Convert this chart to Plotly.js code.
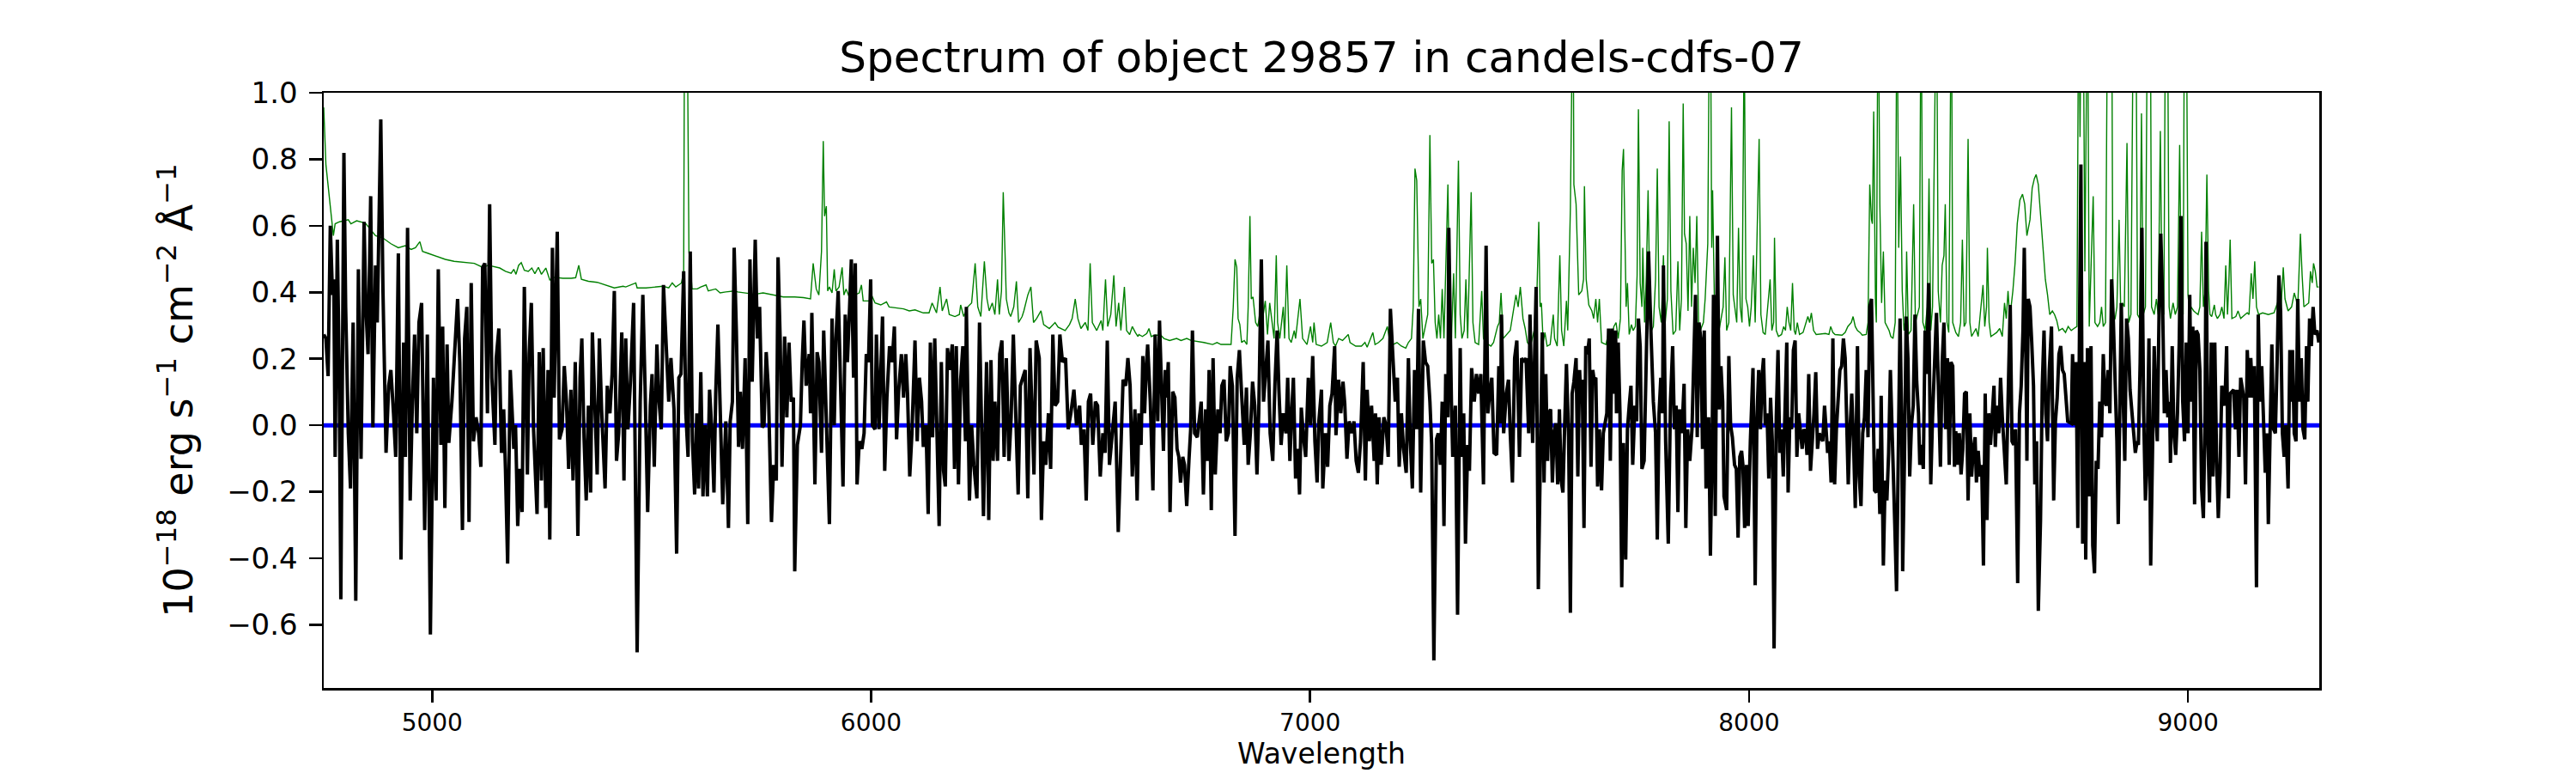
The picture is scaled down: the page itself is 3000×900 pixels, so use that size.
<!DOCTYPE html>
<html>
<head>
<meta charset="utf-8">
<script src="https://cdn.plot.ly/plotly-3.0.1.min.js"></script>
<style>html,body{margin:0;padding:0;background:#fff;}#chart{width:3000px;height:900px;}</style>
</head>
<body>
<div id="chart"></div>
<script>
// ---- data: [wavelength (Å), flux (1e-18 erg/s/cm2/Å)] ----
const flux1 = [[4753,0.273],[4758,0.261],[4763,0.148],[4768,0.600],[4773,0.392],[4776,0.439],[4779,-0.095],[4784,0.558],[4788,0.190],[4792,-0.523],[4799,0.819],[4803,0.356],[4809,-0.024],[4814,-0.190],[4820,0.309],[4826,-0.528],[4832,0.469],[4838,-0.101],[4845,0.612],[4849,0.356],[4854,0.214],[4860,0.689],[4865,-0.006],[4871,0.481],[4875,0.309],[4883,0.920],[4888,0.404],[4895,-0.083],[4901,0.119],[4906,0.166],[4912,0.036],[4917,-0.095],[4923,0.517],[4929,-0.404],[4935,0.249],[4939,-0.095],[4944,0.594],[4950,-0.226],[4955,0.071],[4960,0.273],[4965,-0.024],[4970,0.309],[4976,0.368],[4983,-0.315],[4989,0.273],[4996,-0.629],[5003,0.143],[5009,-0.226],[5014,0.469],[5020,-0.059],[5024,0.297],[5029,-0.249],[5034,0.243],[5038,-0.053],[5045,0.071],[5051,0.238],[5058,0.380],[5063,0.190],[5069,-0.315],[5074,0.261],[5079,0.356],[5084,-0.291],[5089,0.428],[5094,-0.048],[5100,0.024],[5106,-0.024],[5111,-0.125],[5115,0.475],[5120,0.487],[5126,0.036],[5131,0.665],[5136,0.143],[5143,-0.059],[5146,0.202],[5152,0.291],[5158,-0.083],[5163,0.048],[5167,-0.131],[5172,-0.416],[5178,0.166],[5186,-0.071],[5190,0.000],[5195,-0.303],[5200,-0.131],[5205,-0.261],[5210,0.416],[5217,-0.148],[5221,0.214],[5226,0.368],[5231,-0.012],[5239,-0.267],[5244,0.220],[5249,-0.166],[5253,0.232],[5259,-0.249],[5264,0.166],[5268,-0.344],[5274,0.534],[5278,0.083],[5285,0.582],[5290,-0.042],[5296,-0.012],[5301,0.178],[5306,0.071],[5311,-0.131],[5316,0.107],[5321,-0.166],[5326,0.190],[5332,-0.333],[5337,0.143],[5341,0.261],[5346,-0.036],[5351,-0.226],[5356,0.059],[5361,-0.202],[5365,0.279],[5371,0.071],[5376,-0.148],[5381,0.261],[5386,0.048],[5394,-0.190],[5399,0.119],[5405,0.036],[5410,0.154],[5415,0.404],[5420,-0.107],[5425,-0.024],[5432,0.279],[5437,-0.166],[5441,0.261],[5446,-0.012],[5452,0.137],[5459,0.368],[5467,-0.683],[5474,0.071],[5480,0.392],[5485,0.119],[5491,-0.261],[5497,0.059],[5501,0.154],[5506,-0.125],[5512,0.243],[5517,0.071],[5522,-0.012],[5527,0.422],[5532,0.279],[5539,0.071],[5544,0.202],[5551,0.048],[5557,-0.386],[5562,0.143],[5567,0.154],[5573,0.463],[5578,0.036],[5583,-0.095],[5588,0.523],[5593,-0.048],[5598,-0.208],[5603,0.036],[5607,-0.190],[5612,0.160],[5617,-0.214],[5622,0.000],[5627,-0.214],[5632,0.107],[5637,-0.012],[5642,-0.202],[5646,0.095],[5651,0.303],[5656,0.059],[5662,-0.238],[5669,0.012],[5675,-0.309],[5679,0.012],[5684,0.071],[5688,0.534]];

const flux2 = [[5693,0.285],[5698,-0.065],[5702,0.101],[5707,-0.071],[5713,0.202],[5719,-0.297],[5724,0.499],[5729,0.131],[5736,0.558],[5741,0.261],[5746,0.356],[5752,-0.006],[5756,0.000],[5761,0.220],[5766,0.107],[5773,-0.291],[5778,-0.119],[5784,-0.166],[5788,0.505],[5793,0.249],[5797,-0.125],[5803,0.267],[5808,0.024],[5813,0.249],[5818,0.071],[5823,0.083],[5826,-0.439],[5832,-0.059],[5839,0.000],[5843,0.190],[5847,0.315],[5852,0.119],[5859,0.214],[5862,0.036],[5865,0.338],[5872,-0.178],[5877,0.220],[5881,0.190],[5887,-0.083],[5892,0.285],[5899,0.000],[5905,-0.297],[5911,0.321],[5916,0.000],[5920,0.261],[5925,0.404],[5930,0.143],[5936,-0.184],[5941,0.333],[5946,0.190],[5951,0.356],[5955,0.499],[5960,0.143],[5964,0.487],[5968,-0.178],[5973,-0.048],[5979,-0.071],[5984,-0.024],[5989,0.214],[5994,0.190],[5999,0.439],[6003,0.000],[6009,-0.012],[6012,0.273],[6018,-0.012],[6022,0.143],[6026,0.327],[6031,-0.137],[6036,0.083],[6042,0.238],[6048,0.190],[6053,0.297],[6058,-0.042],[6063,0.107],[6069,0.214],[6074,0.083],[6079,0.214],[6083,0.095],[6088,-0.154],[6093,-0.024],[6100,0.255],[6105,-0.048],[6110,0.143],[6115,0.071],[6119,-0.065],[6125,0.000],[6130,-0.267],[6135,0.249],[6140,-0.036],[6145,0.261],[6151,-0.048],[6155,-0.303],[6160,0.190],[6165,-0.137],[6169,-0.184],[6174,0.232],[6179,0.166],[6185,0.243],[6190,-0.131],[6194,0.238],[6199,-0.178],[6204,0.137],[6209,0.238],[6215,-0.048],[6217,0.356],[6224,-0.226],[6229,0.000],[6234,-0.119],[6241,-0.220],[6247,0.309],[6252,-0.024],[6256,-0.273],[6263,0.190],[6268,-0.285],[6273,0.196],[6278,-0.107],[6282,0.071],[6288,-0.107],[6293,0.214],[6298,0.255],[6303,-0.095],[6308,0.202],[6314,-0.107],[6319,0.024],[6324,0.273],[6329,0.071],[6335,-0.208],[6340,0.119],[6351,0.166],[6357,-0.220],[6362,0.232],[6367,0.024],[6371,-0.148],[6376,0.255],[6383,0.202],[6388,-0.285],[6393,-0.048],[6398,-0.119],[6404,0.036],[6409,-0.131],[6414,0.273],[6419,0.059],[6425,0.071],[6430,0.273],[6436,0.190],[6443,0.202],[6449,-0.012],[6455,0.036],[6462,0.107],[6468,0.000],[6475,0.059],[6479,-0.059],[6485,-0.012],[6490,-0.226],[6495,0.071],[6500,0.095],[6505,-0.059],[6511,0.071],[6516,0.059],[6522,-0.154],[6528,-0.024],[6533,-0.083],[6538,0.255],[6543,-0.119],[6550,0.000],[6556,0.071],[6563,-0.321],[6568,-0.083],[6574,0.137],[6580,0.119],[6585,0.202],[6590,0.119],[6595,-0.154],[6601,0.048],[6606,-0.226]];

const flux3 = [[6610,0.036],[6615,-0.059],[6619,0.208],[6623,0.036],[6627,0.178],[6630,0.243],[6636,0.071],[6642,-0.196],[6647,0.273],[6653,0.012],[6657,0.315],[6662,0.083],[6666,-0.077],[6670,0.166],[6673,0.083],[6677,0.190],[6681,-0.261],[6687,0.101],[6692,0.083],[6697,-0.071],[6701,-0.095],[6705,-0.172],[6710,-0.095],[6714,-0.119],[6719,-0.243],[6724,-0.107],[6728,-0.012],[6732,0.285],[6737,-0.024],[6743,-0.036],[6748,0.036],[6752,0.071],[6757,-0.208],[6762,0.048],[6766,-0.107],[6770,0.166],[6775,-0.255],[6779,0.202],[6784,-0.148],[6790,0.048],[6795,-0.024],[6799,0.119],[6804,0.137],[6809,-0.048],[6814,-0.024],[6818,0.178],[6823,0.119],[6829,-0.333],[6834,0.143],[6839,0.226],[6844,0.095],[6850,-0.059],[6855,0.113],[6859,-0.119],[6864,-0.024],[6869,0.131],[6874,0.059],[6879,-0.148],[6883,0.036],[6889,0.499],[6894,0.071],[6899,0.166],[6904,0.255],[6909,-0.024],[6915,-0.107],[6920,0.125],[6925,0.285],[6929,0.107],[6934,-0.059],[6939,0.036],[6945,-0.024],[6949,0.143],[6954,-0.107],[6958,0.036],[6962,0.143],[6967,-0.160],[6972,-0.071],[6976,-0.208],[6980,0.053],[6985,-0.036],[6990,-0.095],[6996,0.143],[7001,0.000],[7006,0.208],[7011,-0.048],[7016,-0.172],[7020,0.012],[7026,0.107],[7029,-0.190],[7035,-0.024],[7040,-0.125],[7045,0.059],[7050,0.095],[7056,0.238],[7059,-0.030],[7065,0.137],[7070,0.036],[7075,0.131],[7079,0.065],[7084,-0.101],[7089,0.012],[7095,-0.024],[7100,0.012],[7105,-0.107],[7110,-0.143],[7115,-0.048],[7121,0.190],[7126,-0.166],[7130,0.107],[7135,-0.048],[7140,0.059],[7146,-0.107],[7149,0.036],[7153,-0.178],[7157,0.024],[7162,-0.119],[7168,0.024],[7173,0.000],[7178,-0.095],[7183,0.350],[7189,0.166],[7194,0.071],[7199,0.143],[7203,-0.125],[7208,0.036],[7213,-0.071],[7219,-0.143],[7224,0.202],[7228,-0.036],[7233,-0.190],[7238,0.166],[7243,-0.012],[7247,0.350],[7252,-0.202],[7258,0.255],[7263,0.190],[7268,0.178],[7273,0.071],[7277,-0.059],[7282,-0.707],[7288,-0.042],[7292,-0.024],[7297,-0.119],[7301,0.071],[7305,-0.303],[7309,0.154],[7314,0.024],[7316,0.594],[7322,0.071],[7325,-0.095],[7331,0.059],[7336,-0.570],[7342,0.232],[7345,-0.095],[7350,0.036],[7354,-0.356],[7359,-0.059],[7363,-0.137],[7368,0.172],[7374,0.071],[7379,0.154],[7384,0.095],[7389,0.154],[7395,-0.178],[7401,0.540],[7405,0.036],[7409,0.095],[7414,0.143],[7419,-0.083],[7425,-0.089],[7430,0.178],[7434,0.006],[7436,0.333],[7441,-0.024],[7447,0.095],[7452,0.137],[7456,-0.024],[7461,-0.172],[7466,0.202],[7471,0.255],[7477,-0.095],[7482,0.202],[7487,0.190],[7492,0.202],[7498,-0.024],[7501,0.333],[7507,-0.053],[7511,0.238],[7515,0.416],[7520,-0.493]];

const flux4 = [[7525,0.000],[7529,0.279],[7533,-0.172],[7537,0.154],[7541,-0.107],[7544,0.036],[7548,0.048],[7552,-0.172],[7556,-0.024],[7560,0.006],[7564,-0.178],[7568,0.048],[7572,-0.166],[7576,-0.202],[7580,0.000],[7584,0.184],[7589,-0.036],[7593,-0.564],[7597,0.095],[7601,0.131],[7606,0.202],[7610,-0.154],[7614,0.166],[7617,0.071],[7620,0.137],[7624,-0.309],[7628,0.238],[7632,0.214],[7636,0.261],[7640,-0.125],[7644,0.166],[7647,0.137],[7651,0.143],[7655,-0.184],[7659,-0.012],[7664,-0.196],[7668,-0.024],[7676,0.036],[7680,0.291],[7684,-0.107],[7688,0.291],[7692,0.095],[7696,0.285],[7698,0.036],[7702,0.249],[7706,0.036],[7710,-0.487],[7714,-0.053],[7719,-0.404],[7723,-0.012],[7727,0.059],[7731,0.119],[7735,-0.119],[7740,0.059],[7744,0.012],[7748,0.321],[7752,0.238],[7756,-0.131],[7761,-0.107],[7766,0.249],[7771,0.523],[7777,0.261],[7782,0.071],[7787,-0.024],[7791,-0.344],[7795,0.036],[7799,0.143],[7803,0.036],[7805,0.481],[7810,-0.048],[7816,-0.356],[7821,0.071],[7826,0.238],[7830,-0.012],[7834,0.059],[7838,-0.261],[7842,0.048],[7847,-0.024],[7852,0.125],[7856,-0.309],[7860,-0.012],[7865,-0.107],[7870,-0.012],[7874,0.190],[7878,0.392],[7882,-0.036],[7886,0.309],[7890,0.261],[7894,-0.071],[7898,0.285],[7902,-0.190],[7906,-0.048],[7908,0.024],[7912,-0.392],[7916,-0.048],[7919,0.392],[7923,-0.273],[7928,0.570],[7932,0.048],[7936,0.178],[7940,0.071],[7943,-0.214],[7949,-0.255],[7954,0.208],[7958,0.000],[7962,-0.036],[7967,-0.119],[7971,-0.131],[7975,-0.338],[7979,-0.095],[7983,-0.077],[7986,-0.119],[7990,-0.309],[7994,-0.119],[7998,-0.303],[8003,-0.048],[8009,0.172],[8014,-0.481],[8018,0.024],[8022,0.166],[8026,-0.012],[8030,0.154],[8033,0.202],[8037,0.000],[8041,0.036],[8045,-0.160],[8049,0.083],[8053,-0.048],[8057,-0.671],[8062,0.024],[8066,0.226],[8070,-0.083],[8074,-0.012],[8078,-0.154],[8082,0.083],[8086,0.249],[8089,-0.202],[8093,0.024],[8097,-0.012],[8101,0.226],[8105,0.255],[8109,-0.095],[8113,0.036],[8117,-0.012],[8121,-0.071],[8125,-0.012],[8129,-0.024],[8132,-0.089],[8136,0.154],[8140,-0.137],[8144,-0.059],[8148,0.036],[8152,0.160],[8156,-0.071],[8160,-0.024],[8164,-0.036],[8168,-0.048],[8172,0.059],[8179,-0.083],[8183,-0.048],[8187,-0.172],[8191,0.261],[8195,-0.178],[8199,-0.012],[8207,0.166],[8211,0.178],[8215,0.261],[8219,0.202],[8222,-0.012],[8226,-0.178],[8230,-0.012],[8234,0.095],[8238,-0.048],[8242,-0.249],[8247,0.238],[8251,-0.154],[8255,-0.243],[8259,-0.024],[8263,0.024],[8267,0.166],[8271,-0.036],[8275,0.356],[8279,0.380],[8283,-0.024],[8286,-0.196],[8290,-0.202],[8294,-0.071],[8298,-0.267],[8301,0.089],[8306,-0.422],[8310,-0.166],[8314,-0.226],[8318,-0.083],[8322,0.166],[8326,-0.059],[8329,-0.226],[8332,-0.297],[8336,-0.499],[8340,-0.036],[8344,0.321],[8348,-0.012],[8350,-0.439],[8354,-0.107],[8358,0.327],[8362,0.202],[8366,-0.154],[8370,0.000],[8374,0.059],[8378,0.333],[8382,0.131],[8386,0.036],[8389,-0.119],[8393,-0.059],[8397,-0.131],[8401,0.285],[8405,0.154],[8409,0.428],[8414,-0.178],[8418,0.024],[8422,0.190],[8427,0.338],[8431,0.131],[8436,-0.125],[8440,0.190],[8444,0.309]];

const flux5 = [[8448,-0.012],[8452,0.202],[8456,-0.119],[8460,0.190],[8464,0.178],[8468,-0.125],[8471,-0.018],[8475,-0.119],[8479,-0.024],[8483,-0.148],[8487,-0.071],[8491,0.095],[8495,0.101],[8499,-0.226],[8503,0.036],[8507,-0.154],[8511,-0.071],[8515,-0.036],[8518,-0.172],[8522,-0.077],[8526,-0.154],[8530,-0.119],[8534,-0.422],[8538,0.095],[8542,-0.285],[8546,0.036],[8550,-0.059],[8554,0.018],[8558,0.119],[8561,-0.065],[8565,0.059],[8569,-0.024],[8573,0.143],[8577,0.024],[8581,-0.059],[8586,-0.178],[8590,0.071],[8595,0.362],[8599,-0.048],[8603,-0.059],[8607,-0.012],[8612,-0.475],[8616,0.036],[8620,0.119],[8624,0.285],[8627,0.534],[8631,0.166],[8633,-0.107],[8636,0.380],[8640,0.356],[8644,0.249],[8648,0.119],[8651,-0.178],[8655,-0.048],[8659,-0.558],[8664,-0.285],[8668,0.119],[8672,0.285],[8676,0.036],[8680,-0.048],[8684,0.166],[8689,0.297],[8694,-0.226],[8698,0.012],[8702,0.083],[8706,0.214],[8710,0.238],[8714,0.166],[8718,0.154],[8722,0.071],[8726,0.012],[8734,0.006],[8737,0.214],[8741,0.000],[8745,0.190],[8749,-0.309],[8753,0.202],[8756,0.784],[8760,-0.356],[8764,0.190],[8767,-0.404],[8771,0.232],[8775,-0.214],[8779,0.238],[8783,-0.362],[8787,-0.445],[8791,-0.107],[8795,-0.131],[8799,0.071],[8803,-0.036],[8807,0.214],[8811,0.071],[8814,0.059],[8818,0.166],[8822,0.036],[8826,0.439],[8830,0.309],[8834,0.143],[8838,-0.048],[8841,-0.297],[8844,0.036],[8848,0.368],[8852,0.095],[8856,-0.107],[8860,0.321],[8864,0.261],[8868,0.107],[8872,0.048],[8876,-0.012],[8880,-0.083],[8884,-0.048],[8887,-0.059],[8891,0.190],[8895,0.594],[8899,0.036],[8903,-0.226],[8907,-0.107],[8911,0.261],[8915,-0.422],[8919,-0.012],[8923,0.238],[8927,0.036],[8930,-0.048],[8934,0.333],[8938,0.576],[8942,0.380],[8946,0.036],[8950,0.166],[8954,0.024],[8958,0.071],[8960,-0.113],[8964,0.238],[8968,-0.024],[8972,-0.089],[8976,0.036],[8980,0.249],[8984,0.629],[8988,0.071],[8992,-0.048],[8996,0.249],[9000,-0.024],[9004,0.392],[9007,0.071],[9011,0.297],[9015,-0.238],[9019,0.285],[9023,0.273],[9027,0.166],[9031,-0.190],[9035,-0.279],[9039,0.036],[9041,0.552],[9045,-0.024],[9049,-0.232],[9053,0.249],[9057,-0.154],[9061,0.249],[9065,-0.095],[9069,-0.279],[9073,-0.143],[9077,0.119],[9080,0.083],[9084,0.059],[9088,0.238],[9092,-0.220],[9096,0.095],[9100,0.101],[9104,0.107],[9108,-0.012],[9112,0.107],[9116,-0.095],[9120,0.143],[9127,0.083],[9131,-0.178],[9135,0.226],[9139,0.083],[9143,0.202],[9147,0.083],[9151,0.178],[9156,-0.487],[9160,0.333],[9164,0.071],[9168,0.178],[9172,0.024],[9176,-0.143],[9180,-0.024],[9183,-0.297],[9187,-0.024],[9191,0.243],[9195,-0.012],[9199,-0.024],[9203,0.190],[9207,0.451],[9211,0.344],[9215,-0.024],[9219,-0.095],[9223,0.000],[9228,-0.190],[9232,0.226],[9236,0.071],[9238,0.226],[9242,-0.024],[9246,-0.048],[9250,0.380],[9254,0.071],[9258,0.202],[9262,-0.012],[9266,-0.042],[9270,0.238],[9273,0.071],[9277,0.321],[9281,0.238],[9285,0.356],[9289,0.273],[9294,0.285],[9298,0.249]];

// noise (green) : [wavelength, value]; sky-line spikes run off the top of the frame
const noise1 = [[4753,0.956],[4758,0.784],[4775,0.570],[4779,0.606],[4789,0.612],[4809,0.618],[4815,0.606],[4828,0.615],[4848,0.608],[4861,0.588],[4871,0.570],[4887,0.564],[4906,0.546],[4923,0.534],[4939,0.540],[4952,0.529],[4962,0.534],[4972,0.552],[4978,0.523],[4991,0.517],[5011,0.508],[5030,0.499],[5050,0.493],[5076,0.489],[5096,0.487],[5115,0.475],[5128,0.481],[5154,0.473],[5167,0.463],[5180,0.457],[5186,0.469],[5191,0.454],[5197,0.481],[5203,0.489],[5210,0.466],[5219,0.463],[5227,0.473],[5234,0.456],[5242,0.475],[5249,0.454],[5259,0.473],[5268,0.437],[5278,0.445],[5298,0.442],[5317,0.442],[5327,0.444],[5334,0.481],[5340,0.439],[5356,0.433],[5376,0.430],[5395,0.422],[5415,0.413],[5435,0.418],[5441,0.416],[5464,0.428],[5467,0.413],[5487,0.413],[5506,0.416],[5526,0.418],[5539,0.413],[5547,0.428],[5555,0.416],[5568,0.428],[5573,0.463],[5575,1.259],[5581,1.259],[5585,0.523],[5588,0.487],[5592,0.410],[5604,0.410],[5612,0.416],[5624,0.422],[5629,0.404],[5646,0.410],[5656,0.398],[5669,0.401],[5689,0.404]];

const noise2 = [[5696,0.401],[5715,0.398],[5735,0.394],[5754,0.398],[5774,0.392],[5800,0.386],[5826,0.386],[5846,0.384],[5862,0.380],[5868,0.487],[5875,0.410],[5881,0.392],[5887,0.523],[5891,0.855],[5894,0.629],[5898,0.659],[5901,0.404],[5905,0.416],[5911,0.398],[5916,0.469],[5920,0.404],[5927,0.416],[5934,0.475],[5938,0.392],[5943,0.410],[5950,0.386],[5956,0.422],[5963,0.392],[5973,0.398],[5978,0.422],[5982,0.374],[5995,0.374],[6003,0.386],[6009,0.368],[6022,0.362],[6035,0.371],[6041,0.356],[6061,0.353],[6074,0.350],[6087,0.344],[6100,0.347],[6119,0.338],[6132,0.338],[6139,0.368],[6149,0.338],[6157,0.416],[6162,0.344],[6172,0.380],[6178,0.333],[6191,0.327],[6201,0.333],[6204,0.362],[6211,0.327],[6220,0.356],[6229,0.368],[6237,0.487],[6243,0.356],[6250,0.327],[6258,0.493],[6264,0.380],[6269,0.344],[6276,0.368],[6282,0.333],[6288,0.439],[6292,0.333],[6297,0.404],[6301,0.701],[6305,0.523],[6308,0.380],[6314,0.338],[6318,0.327],[6325,0.356],[6331,0.433],[6336,0.309],[6344,0.327],[6348,0.344],[6357,0.392],[6364,0.416],[6370,0.309],[6377,0.321],[6387,0.344],[6393,0.303],[6406,0.291],[6419,0.309],[6426,0.295],[6442,0.285],[6452,0.303],[6458,0.321],[6465,0.380],[6471,0.321],[6478,0.291],[6488,0.309],[6494,0.285],[6499,0.487],[6504,0.309],[6514,0.285],[6524,0.315],[6528,0.285],[6534,0.439],[6539,0.297],[6546,0.333],[6553,0.451],[6558,0.297],[6564,0.368],[6569,0.285],[6577,0.416],[6582,0.285],[6589,0.273],[6595,0.297],[6602,0.279],[6608,0.267]];

const noise3 = [[6610,0.273],[6618,0.267],[6628,0.276],[6633,0.291],[6638,0.267],[6647,0.271],[6660,0.271],[6667,0.261],[6680,0.255],[6696,0.261],[6706,0.255],[6719,0.261],[6729,0.255],[6745,0.252],[6758,0.249],[6778,0.243],[6788,0.249],[6797,0.243],[6820,0.243],[6825,0.356],[6829,0.499],[6833,0.475],[6836,0.321],[6840,0.303],[6844,0.249],[6850,0.255],[6856,0.243],[6859,0.356],[6863,0.629],[6866,0.380],[6870,0.386],[6876,0.309],[6881,0.297],[6885,0.333],[6892,0.321],[6898,0.374],[6903,0.273],[6908,0.368],[6913,0.309],[6918,0.261],[6923,0.511],[6926,0.309],[6931,0.261],[6939,0.356],[6942,0.261],[6947,0.481],[6952,0.261],[6957,0.249],[6964,0.285],[6967,0.261],[6977,0.380],[6983,0.261],[6993,0.243],[7001,0.297],[7006,0.249],[7009,0.309],[7014,0.243],[7026,0.238],[7039,0.249],[7047,0.309],[7053,0.249],[7058,0.238],[7065,0.261],[7074,0.255],[7087,0.273],[7091,0.249],[7104,0.238],[7117,0.238],[7125,0.249],[7130,0.235],[7143,0.279],[7148,0.243],[7156,0.249],[7166,0.261],[7176,0.297],[7182,0.249],[7189,0.243],[7198,0.249],[7208,0.238],[7218,0.232],[7224,0.249],[7231,0.261],[7235,0.356],[7239,0.772],[7243,0.736],[7246,0.451],[7248,0.356],[7252,0.380],[7257,0.261],[7268,0.333],[7273,0.873],[7277,0.487],[7281,0.499],[7285,0.309],[7289,0.261],[7293,0.333],[7297,0.261],[7301,0.410],[7305,0.261],[7314,0.724],[7318,0.356],[7322,0.261],[7327,0.457],[7331,0.261],[7338,0.796],[7342,0.333],[7346,0.261],[7351,0.285],[7355,0.439],[7359,0.261],[7367,0.701],[7371,0.309],[7376,0.249],[7384,0.243],[7391,0.404],[7395,0.261],[7400,0.249],[7412,0.238],[7418,0.249],[7427,0.297],[7431,0.309],[7435,0.398],[7440,0.261],[7456,0.285],[7462,0.333],[7469,0.392],[7474,0.356],[7479,0.416],[7485,0.321],[7490,0.291],[7495,0.249],[7502,0.238],[7515,0.309],[7521,0.612]];

const noise4 = [[7524,0.356],[7527,0.368],[7531,0.249],[7535,0.279],[7540,0.238],[7547,0.243],[7554,0.333],[7557,0.261],[7563,0.238],[7569,0.511],[7573,0.285],[7578,0.238],[7584,0.374],[7587,0.285],[7593,0.653],[7596,1.378],[7599,1.378],[7601,0.724],[7606,0.665],[7612,0.392],[7619,0.404],[7623,0.439],[7625,0.719],[7629,0.439],[7635,0.362],[7642,0.344],[7646,0.321],[7651,0.380],[7655,0.309],[7659,0.380],[7664,0.249],[7674,0.243],[7681,0.285],[7687,0.261],[7692,0.297],[7697,0.309],[7702,0.261],[7707,0.321],[7711,0.766],[7714,0.831],[7718,0.428],[7720,0.356],[7723,0.428],[7727,0.273],[7732,0.303],[7736,0.285],[7741,0.297],[7745,0.451],[7748,0.950],[7752,0.428],[7756,0.356],[7758,0.534],[7762,0.309],[7766,0.451],[7770,0.707],[7774,0.380],[7778,0.285],[7782,0.297],[7787,0.439],[7791,0.772],[7795,0.356],[7800,0.309],[7805,0.511],[7809,0.309],[7814,0.380],[7818,0.914],[7822,0.404],[7827,0.273],[7833,0.285],[7838,0.493],[7842,0.285],[7846,0.380],[7850,0.968],[7853,0.576],[7857,0.546],[7861,0.344],[7865,0.629],[7869,0.356],[7873,0.534],[7877,0.428],[7881,0.629],[7885,0.309],[7889,0.285],[7896,0.309],[7900,0.380],[7906,0.546],[7910,1.318],[7912,1.318],[7915,0.534],[7917,0.707],[7921,0.380],[7925,0.297],[7930,0.273],[7941,0.356],[7945,0.505],[7949,0.285],[7954,0.309],[7960,0.956],[7964,0.392],[7968,0.356],[7972,0.309],[7976,0.594],[7980,0.356],[7984,0.309],[7989,1.200],[7993,0.380],[7997,0.356],[8001,0.297],[8005,0.356],[8010,0.511],[8014,0.309],[8023,0.861],[8027,0.333],[8032,0.279],[8037,0.273],[8048,0.439],[8052,0.285],[8056,0.309],[8058,0.564],[8062,0.285],[8067,0.267],[8074,0.273],[8079,0.297],[8083,0.285],[8087,0.356],[8091,0.309],[8095,0.285],[8099,0.428],[8103,0.285],[8106,0.273],[8110,0.309],[8115,0.273],[8123,0.279],[8134,0.327],[8138,0.309],[8142,0.338],[8147,0.285],[8153,0.273],[8174,0.276],[8182,0.273],[8186,0.297],[8191,0.279],[8196,0.273],[8212,0.271],[8219,0.279],[8225,0.297],[8233,0.309],[8237,0.327],[8242,0.297],[8247,0.285],[8253,0.279],[8258,0.271],[8267,0.273],[8271,0.309],[8275,0.724],[8279,0.618],[8281,0.606],[8284,0.944],[8288,0.368],[8290,0.309],[8294,1.378],[8298,0.665],[8302,0.368],[8306,0.523],[8310,0.309],[8319,0.285],[8323,0.267],[8328,0.261],[8333,0.309],[8337,1.378],[8341,0.534],[8345,0.808],[8349,0.404],[8353,0.285],[8357,0.321],[8359,0.523],[8363,0.273],[8369,0.285],[8375,0.665],[8379,0.309],[8388,0.356],[8392,1.378],[8396,0.309],[8401,0.285],[8406,0.356],[8410,0.742],[8414,0.285],[8418,0.356],[8423,1.378],[8427,1.378],[8431,0.404]];

const noise5 = [[8436,0.309],[8440,0.481],[8444,0.511],[8447,0.665],[8451,0.309],[8455,0.279],[8458,1.378],[8461,1.378],[8464,0.309],[8471,0.279],[8477,0.267],[8482,0.309],[8486,0.558],[8490,0.297],[8494,0.309],[8496,0.487],[8499,0.861],[8503,0.309],[8507,0.267],[8517,0.291],[8522,0.267],[8533,0.422],[8537,0.297],[8541,0.356],[8543,0.534],[8547,0.309],[8551,0.267],[8564,0.279],[8571,0.291],[8577,0.267],[8582,0.368],[8586,0.321],[8590,0.404],[8594,0.321],[8601,0.404],[8606,0.487],[8611,0.606],[8617,0.677],[8623,0.695],[8628,0.665],[8633,0.570],[8640,0.618],[8645,0.713],[8650,0.742],[8654,0.754],[8659,0.724],[8664,0.641],[8670,0.523],[8675,0.439],[8680,0.392],[8685,0.333],[8691,0.344],[8696,0.333],[8701,0.315],[8706,0.285],[8714,0.291],[8721,0.279],[8727,0.297],[8734,0.285],[8740,0.291],[8747,0.297],[8751,1.378],[8754,0.867],[8757,1.378],[8761,1.378],[8765,0.463],[8767,1.378],[8771,1.378],[8775,0.297],[8784,0.689],[8788,0.309],[8794,0.297],[8799,0.309],[8803,0.356],[8807,0.297],[8812,0.309],[8817,1.378],[8822,1.378],[8826,1.378],[8829,0.309],[8834,0.321],[8838,0.356],[8843,0.618],[8847,0.321],[8851,0.368],[8855,0.356],[8861,0.849],[8865,0.309],[8870,0.333],[8876,1.378],[8881,1.378],[8885,0.333],[8890,0.321],[8894,0.938],[8898,0.333],[8903,0.356],[8908,1.378],[8914,1.378],[8917,0.356],[8923,0.333],[8928,0.380],[8932,0.333],[8937,0.885],[8941,0.356],[8945,0.333],[8949,1.378],[8953,1.378],[8957,0.356],[8960,0.321],[8966,0.368],[8971,0.333],[8976,0.356],[8981,0.843],[8985,0.356],[8989,0.333],[8992,1.378],[8996,1.378],[9000,0.392],[9004,0.333],[9007,0.356],[9013,0.344],[9018,0.338],[9023,0.333],[9027,0.356],[9031,0.582],[9035,0.356],[9039,0.404],[9043,0.754],[9047,0.404],[9050,0.333],[9054,0.327],[9060,0.362],[9063,0.333],[9067,0.321],[9073,0.333],[9077,0.356],[9082,0.321],[9086,0.481],[9090,0.333],[9093,0.428],[9096,0.558],[9100,0.321],[9109,0.327],[9114,0.344],[9120,0.321],[9130,0.333],[9135,0.338],[9139,0.333],[9144,0.457],[9148,0.380],[9152,0.493],[9156,0.356],[9161,0.333],[9170,0.338],[9183,0.333],[9196,0.338],[9207,0.380],[9212,0.356],[9217,0.475],[9221,0.380],[9228,0.344],[9236,0.356],[9242,0.398],[9246,0.380],[9250,0.356],[9254,0.499],[9256,0.576],[9260,0.451],[9264,0.356],[9275,0.368],[9279,0.463],[9283,0.428],[9286,0.487],[9290,0.463],[9294,0.416],[9298,0.416]];

// zero reference line and axis ticks
const zeroWave = [4753, 9299];
const zeroValue = [0, 0];
const xTickVals = [5000, 6000, 7000, 8000, 9000];
const xTickText = ['5000', '6000', '7000', '8000', '9000'];
const yTickVals = [-0.6, -0.4, -0.2, 0.0, 0.2, 0.4, 0.6, 0.8, 1.0];
const yTickText = ['\u22120.6', '\u22120.4', '\u22120.2', '0.0', '0.2', '0.4', '0.6', '0.8', '1.0'];
const xRange = [4753, 9299];
const yRange = [-0.79, 1.0];

const fluxAll = flux1.concat(flux2, flux3, flux4, flux5);
const noiseAll = noise1.concat(noise2, noise3, noise4, noise5);

const traces = [
  {type: 'scatter', mode: 'lines', x: noiseAll.map(p => p[0]), y: noiseAll.map(p => p[1]),
   line: {color: '#008000', width: 1.4}, hoverinfo: 'skip'},
  {type: 'scatter', mode: 'lines', x: zeroWave, y: zeroValue,
   line: {color: '#0000ff', width: 5}, hoverinfo: 'skip'},
  {type: 'scatter', mode: 'lines', x: fluxAll.map(p => p[0]), y: fluxAll.map(p => p[1]),
   line: {color: '#000000', width: 4}, hoverinfo: 'skip'}
];

const FONT = 'DejaVu Sans, Liberation Sans, sans-serif';
const layout = {
  width: 3000, height: 900,
  margin: {l: 377, r: 299, t: 108, b: 99, pad: 0},
  paper_bgcolor: '#ffffff', plot_bgcolor: '#ffffff',
  showlegend: false,
  font: {family: FONT, color: '#000000'},
  title: {text: 'Spectrum of object 29857 in candels-cdfs-07',
          font: {family: FONT, size: 50, color: '#000000'},
          xref: 'paper', x: 0.5, xanchor: 'center',
          yref: 'container', y: 1 - 66 / 900, yanchor: 'middle'},
  xaxis: {range: xRange, tickmode: 'array', tickvals: xTickVals, ticktext: xTickText,
          ticks: 'outside', ticklen: 14, tickwidth: 2.5, tickcolor: '#000000',
          showline: true, mirror: true, linecolor: '#000000', linewidth: 2.5,
          showgrid: false, zeroline: false,
          tickfont: {family: FONT, size: 28, color: '#000000'},
          title: {text: 'Wavelength', font: {family: FONT, size: 33, color: '#000000'}, standoff: 6}},
  yaxis: {range: yRange, tickmode: 'array', tickvals: yTickVals, ticktext: yTickText,
          ticks: 'outside', ticklen: 15, tickwidth: 2.5, tickcolor: '#000000',
          ticklabelstandoff: 6,
          showline: true, mirror: true, linecolor: '#000000', linewidth: 2.5,
          showgrid: false, zeroline: false,
          tickfont: {family: FONT, size: 34, color: '#000000'},
          title: {text: '10<sup>\u221218</sup> erg s<sup>\u22121</sup> cm<sup>\u22122</sup> \u00c5<sup>\u22121</sup>',
                  font: {family: FONT, size: 46, color: '#000000'}, standoff: 25}}
};

Plotly.newPlot('chart', traces, layout, {staticPlot: true, displayModeBar: false});
</script>
</body>
</html>
